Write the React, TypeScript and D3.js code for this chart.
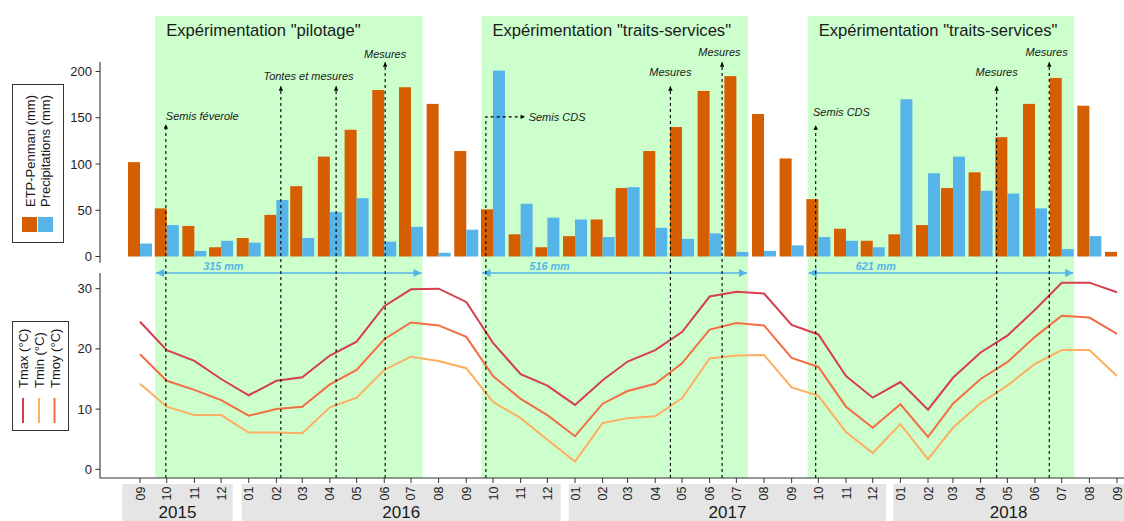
import * as d3 from "d3";

// monthly series, sept 2015 -> sept 2018
const months = [
  "2015-09", "2015-10", "2015-11", "2015-12",
  "2016-01", "2016-02", "2016-03", "2016-04", "2016-05", "2016-06", "2016-07", "2016-08", "2016-09", "2016-10", "2016-11", "2016-12",
  "2017-01", "2017-02", "2017-03", "2017-04", "2017-05", "2017-06", "2017-07", "2017-08", "2017-09", "2017-10", "2017-11", "2017-12",
  "2018-01", "2018-02", "2018-03", "2018-04", "2018-05", "2018-06", "2018-07", "2018-08", "2018-09",
];
const etp = [102, 52, 33, 10, 20, 45, 76, 108, 137, 180, 183, 165, 114, 51, 24, 10, 22, 40, 74, 114, 140, 179, 195, 154, 106, 62, 30, 17, 24, 34, 74, 91, 129, 165, 193, 163, 5];
const precip = [14, 34, 6, 17, 15, 61, 20, 48, 63, 16, 32, 4, 29, 201, 57, 42, 40, 21, 75, 31, 19, 25, 5, 6, 12, 21, 17, 10, 170, 90, 108, 71, 68, 52, 8, 22, 0];
const tmax = [24.5, 19.8, 18.0, 15.0, 12.3, 14.7, 15.3, 18.9, 21.2, 27.1, 29.9, 30.0, 27.8, 21.0, 15.8, 13.9, 10.7, 14.8, 17.9, 19.8, 22.8, 28.7, 29.5, 29.2, 24.0, 22.4, 15.5, 11.9, 14.5, 9.9, 15.2, 19.4, 22.2, 26.5, 31.0, 31.0, 29.4];
const tmoy = [19.1, 14.7, 13.2, 11.5, 8.9, 10.0, 10.4, 14.1, 16.5, 21.6, 24.4, 23.9, 22.0, 15.5, 11.7, 9.0, 5.5, 10.9, 13.0, 14.2, 17.6, 23.2, 24.3, 23.9, 18.5, 17.0, 10.4, 6.9, 10.8, 5.4, 10.9, 15.0, 17.8, 22.0, 25.5, 25.2, 22.5];
const tmin = [14.2, 10.4, 9.0, 9.0, 6.1, 6.1, 6.0, 10.3, 11.9, 16.5, 18.7, 18.0, 16.8, 11.2, 8.5, 4.9, 1.3, 7.7, 8.5, 8.8, 11.8, 18.4, 18.9, 19.0, 13.6, 12.2, 6.2, 2.7, 7.5, 1.7, 6.9, 11.0, 13.9, 17.5, 19.8, 19.8, 15.5];

const years = ["2015", "2016", "2017", "2018"];
const yearStarts = ["2015-08-26", "2016-01-07", "2017-01-08", "2018-01-07"];
const yearEnds = ["2015-12-28", "2016-12-30", "2017-12-30", "2019-01-31"];

const expTitles = ['Expérimentation "pilotage"', 'Expérimentation "traits-services"', 'Expérimentation "traits-services"'];
const expStarts = ["2015-10-02", "2016-10-02", "2017-10-03"];
const expEnds = ["2016-07-28", "2017-07-28", "2018-07-29"];
const expRain = ["315 mm", "516 mm", "621 mm"];

// dashed arrows (date, level of the tip in mm)
const arrowDates = ["2015-10-14", "2016-02-20", "2016-04-22", "2016-06-16", "2017-05-02", "2017-06-29", "2017-10-12", "2018-05-03", "2018-07-01"];
const arrowTips = [143, 184, 184, 210, 184, 210, 142, 184, 210];
// sowing CDS 2016: goes up then right
const cdsDate = "2016-10-07";
const cdsEnd = "2016-11-20";
const cdsLevel = 151;

const noteTexts = ["Semis féverole", "Tontes et mesures", "Mesures", "Semis CDS", "Mesures", "Mesures", "Semis CDS", "Mesures", "Mesures"];
const noteDates = ["2015-10-14", "2016-03-22", "2016-06-16", "2016-11-24", "2017-05-02", "2017-06-26", "2017-10-09", "2018-05-03", "2018-06-28"];
const noteLevels = [147.5, 191, 215, 146.5, 195.5, 217, 151.5, 195.5, 217];
const noteAnchors = ["start", "middle", "middle", "start", "middle", "middle", "start", "middle", "middle"];

const ORANGE = "#D55E00";
const BLUE = "#56B4E9";
const GREEN = "#CCFFCC";
const C_TMAX = "#D53E4F";
const C_TMIN = "#FDAE61";
const C_TMOY = "#F46D43";
const FONT = "'Liberation Sans', Arial, Helvetica, sans-serif";

const day = (s: string) => new Date((s.length === 7 ? s + "-15" : s) + "T00:00:00Z");

export default function App() {
  const W = 1124, H = 521;
  const x = d3.scaleUtc().domain([day("2015-09-15"), day("2018-09-15")]).range([140, 1117]);
  const yTop = d3.scaleLinear().domain([0, 200]).range([256.5, 71.5]);
  const yBot = d3.scaleLinear().domain([0, 30]).range([469.3, 288.7]);
  const barW = 12;
  const axisX = 100;
  const baseY = 478;

  const line = (vals: number[]) =>
    d3.line<number>().x((_, i) => x(day(months[i]))).y((v) => yBot(v))(vals) || "";

  const rainY = yBot(32.6);

  return (
    <div style={{ position: "absolute", left: 0, top: 0 }}>
      <svg width={W} height={H} style={{ display: "block", fontFamily: FONT }}>
        <defs>
          <marker id="tipB" viewBox="0 0 10 10" refX="10" refY="5" markerWidth="5" markerHeight="4.5" markerUnits="userSpaceOnUse" orient="auto">
            <path d="M0,0 L10,5 L0,10 Z" fill="#000" />
          </marker>
          <marker id="tipR" viewBox="0 0 10 10" refX="10" refY="5" markerWidth="11" markerHeight="8" markerUnits="userSpaceOnUse" orient="auto-start-reverse">
            <path d="M0,0 L10,5 L0,10 Z" fill={BLUE} />
          </marker>
        </defs>
        <rect width={W} height={H} fill="#fff" />

        {/* experiment periods */}
        {expStarts.map((s, i) => (
          <rect key={"e" + i} x={x(day(s))} y={16} width={x(day(expEnds[i])) - x(day(s))} height={baseY - 16} fill={GREEN} />
        ))}
        {expTitles.map((t, i) => (
          <text key={"t" + i} x={x(day(expStarts[i])) + 11} y={36} fontSize={16.6} fill="#1a1a1a">{t}</text>
        ))}

        {/* bars */}
        {months.map((m, i) => (
          <g key={"b" + m}>
            <rect x={x(day(m)) - barW} y={yTop(etp[i])} width={barW} height={yTop(0) - yTop(etp[i])} fill={ORANGE} />
            {precip[i] > 0 && (
              <rect x={x(day(m))} y={yTop(precip[i])} width={barW} height={yTop(0) - yTop(precip[i])} fill={BLUE} />
            )}
          </g>
        ))}

        {/* temperature lines */}
        <path d={line(tmin)} fill="none" stroke={C_TMIN} strokeWidth={2} />
        <path d={line(tmoy)} fill="none" stroke={C_TMOY} strokeWidth={2} />
        <path d={line(tmax)} fill="none" stroke={C_TMAX} strokeWidth={2} />

        {/* rain totals */}
        {expStarts.map((s, i) => (
          <g key={"r" + i}>
            <line x1={x(day(s)) + 1} x2={x(day(expEnds[i])) - 1} y1={rainY} y2={rainY} stroke={BLUE} strokeWidth={1.5}
              markerStart="url(#tipR)" markerEnd="url(#tipR)" />
            <text x={x(day(s)) + 48} y={rainY - 3} fontSize={10.8} fontWeight="bold" fontStyle="italic" fill={BLUE}>{expRain[i]}</text>
          </g>
        ))}

        {/* event arrows */}
        {arrowDates.map((d, i) => (
          <line key={"a" + i} x1={x(day(d))} x2={x(day(d))} y1={baseY} y2={yTop(arrowTips[i])} stroke="#000" strokeWidth={1.1}
            strokeDasharray="3,3" markerEnd="url(#tipB)" />
        ))}
        <path d={`M${x(day(cdsDate))},${baseY} V${yTop(cdsLevel)} H${x(day(cdsEnd))}`} fill="none" stroke="#000" strokeWidth={1.1}
          strokeDasharray="3,3" markerEnd="url(#tipB)" />
        {noteTexts.map((t, i) => (
          <text key={"n" + i} x={x(day(noteDates[i]))} y={yTop(noteLevels[i])} fontSize={11} fontStyle="italic"
            textAnchor={noteAnchors[i]} fill="#1a1a1a">{t}</text>
        ))}

        {/* axes */}
        <g stroke="#333" strokeWidth={1.1}>
          <line x1={axisX} x2={axisX} y1={62} y2={263} />
          <line x1={axisX} x2={axisX} y1={273} y2={baseY} />
          <line x1={axisX} x2={W} y1={baseY} y2={baseY} />
        </g>
        {yTop.ticks(4).map((t) => (
          <g key={"yt" + t}>
            <line x1={axisX - 4.5} x2={axisX} y1={yTop(t)} y2={yTop(t)} stroke="#333" />
            <text x={axisX - 8} y={yTop(t)} dy="0.35em" textAnchor="end" fontSize={13} fill="#222">{t}</text>
          </g>
        ))}
        {[0, 10, 20, 30].map((t) => (
          <g key={"yb" + t}>
            <line x1={axisX - 4.5} x2={axisX} y1={yBot(t)} y2={yBot(t)} stroke="#333" />
            <text x={axisX - 8} y={yBot(t)} dy="0.35em" textAnchor="end" fontSize={13} fill="#222">{t}</text>
          </g>
        ))}

        {/* year strips */}
        {years.map((yr, i) => {
          const x0 = x(day(yearStarts[i]));
          const x1 = Math.min(W, x(day(yearEnds[i])));
          return (
            <g key={"y" + yr}>
              <rect x={x0} y={484} width={x1 - x0} height={H - 484} fill="#E5E5E5" />
              <text x={(x0 + x1) / 2} y={518} textAnchor="middle" fontSize={17} fill="#1a1a1a">{yr}</text>
            </g>
          );
        })}
        {months.map((m) => {
          const px = x(day(m));
          return (
            <g key={"xt" + m}>
              <line x1={px} x2={px} y1={baseY} y2={baseY + 5} stroke="#333" />
              <text transform={`translate(${px + 4.5},${486.5}) rotate(-90)`} textAnchor="end" fontSize={12.5} fill="#222">
                {m.slice(5)}
              </text>
            </g>
          );
        })}

        {/* legend: bars */}
        <rect x={12.5} y={84.5} width={51} height={158} fill="#fff" stroke="#333" />
        <text transform="translate(34.5,207) rotate(-90)" fontSize={13} fill="#1a1a1a">ETP-Penman (mm)</text>
        <text transform="translate(49.5,207) rotate(-90)" fontSize={13} fill="#1a1a1a">Precipitations (mm)</text>
        <rect x={22} y={217} width={15} height={15} fill={ORANGE} />
        <rect x={38} y={217} width={15} height={15} fill={BLUE} />

        {/* legend: temperatures */}
        <rect x={12.5} y={321.5} width={56} height={109} fill="#fff" stroke="#333" />
        <text transform="translate(28,388) rotate(-90)" fontSize={13} fill="#1a1a1a">Tmax (°C)</text>
        <text transform="translate(44,388) rotate(-90)" fontSize={13} fill="#1a1a1a">Tmin (°C)</text>
        <text transform="translate(59.5,388) rotate(-90)" fontSize={13} fill="#1a1a1a">Tmoy (°C)</text>
        <line x1={23} x2={23} y1={398} y2={423} stroke={C_TMAX} strokeWidth={2} />
        <line x1={39} x2={39} y1={398} y2={423} stroke={C_TMIN} strokeWidth={2} />
        <line x1={54.5} x2={54.5} y1={398} y2={423} stroke={C_TMOY} strokeWidth={2} />
      </svg>
    </div>
  );
}
